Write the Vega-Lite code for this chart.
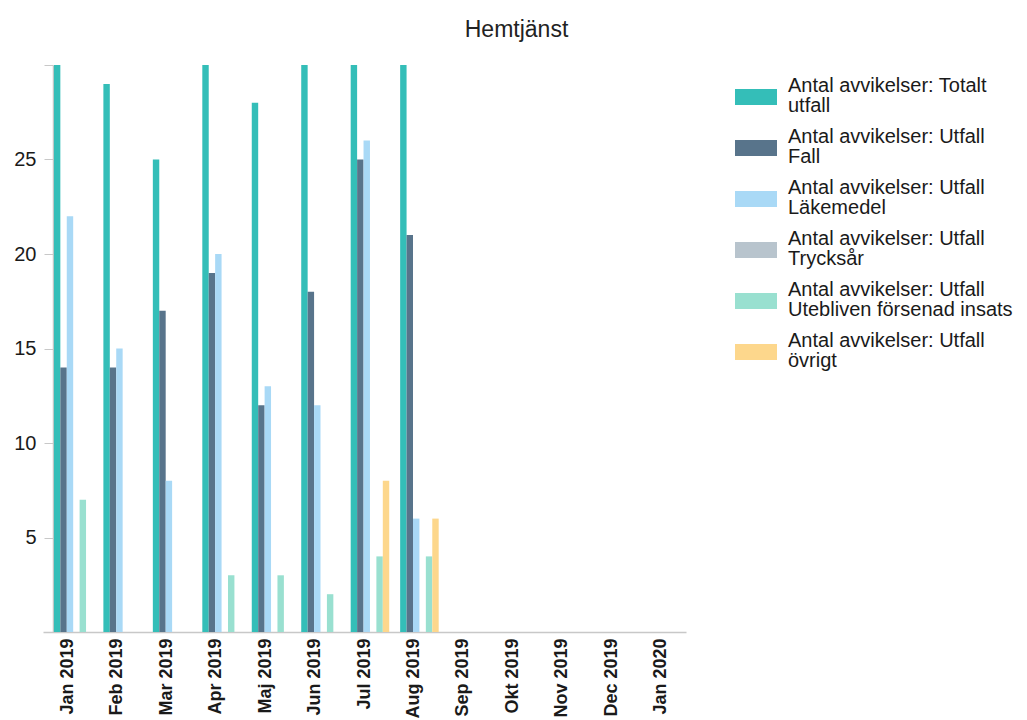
{
  "$schema": "https://vega.github.io/schema/vega-lite/v6.json",
  "width": 643,
  "height": 567,
  "autosize": {"type": "none"},
  "padding": {"left": 43, "top": 65, "right": 341, "bottom": 88},
  "background": "white",
  "title": {
    "text": "Hemtjänst",
    "anchor": "middle",
    "dx": 152,
    "offset": 23,
    "fontSize": 23,
    "fontWeight": "normal",
    "font": "Liberation Sans",
    "color": "#222222"
  },
  "config": {
    "view": {"stroke": null},
    "font": "Liberation Sans",
    "style": {"guide-label": {"lineHeight": 20}}
  },
  "data": {
    "values": [
      {"month": "Jan 2019", "serie": "Antal avvikelser: Totalt utfall", "antal": 30},
      {"month": "Jan 2019", "serie": "Antal avvikelser: Utfall Fall", "antal": 14},
      {"month": "Jan 2019", "serie": "Antal avvikelser: Utfall Läkemedel", "antal": 22},
      {"month": "Jan 2019", "serie": "Antal avvikelser: Utfall Utebliven försenad insats", "antal": 7},
      {"month": "Feb 2019", "serie": "Antal avvikelser: Totalt utfall", "antal": 29},
      {"month": "Feb 2019", "serie": "Antal avvikelser: Utfall Fall", "antal": 14},
      {"month": "Feb 2019", "serie": "Antal avvikelser: Utfall Läkemedel", "antal": 15},
      {"month": "Mar 2019", "serie": "Antal avvikelser: Totalt utfall", "antal": 25},
      {"month": "Mar 2019", "serie": "Antal avvikelser: Utfall Fall", "antal": 17},
      {"month": "Mar 2019", "serie": "Antal avvikelser: Utfall Läkemedel", "antal": 8},
      {"month": "Apr 2019", "serie": "Antal avvikelser: Totalt utfall", "antal": 30},
      {"month": "Apr 2019", "serie": "Antal avvikelser: Utfall Fall", "antal": 19},
      {"month": "Apr 2019", "serie": "Antal avvikelser: Utfall Läkemedel", "antal": 20},
      {"month": "Apr 2019", "serie": "Antal avvikelser: Utfall Utebliven försenad insats", "antal": 3},
      {"month": "Maj 2019", "serie": "Antal avvikelser: Totalt utfall", "antal": 28},
      {"month": "Maj 2019", "serie": "Antal avvikelser: Utfall Fall", "antal": 12},
      {"month": "Maj 2019", "serie": "Antal avvikelser: Utfall Läkemedel", "antal": 13},
      {"month": "Maj 2019", "serie": "Antal avvikelser: Utfall Utebliven försenad insats", "antal": 3},
      {"month": "Jun 2019", "serie": "Antal avvikelser: Totalt utfall", "antal": 30},
      {"month": "Jun 2019", "serie": "Antal avvikelser: Utfall Fall", "antal": 18},
      {"month": "Jun 2019", "serie": "Antal avvikelser: Utfall Läkemedel", "antal": 12},
      {"month": "Jun 2019", "serie": "Antal avvikelser: Utfall Utebliven försenad insats", "antal": 2},
      {"month": "Jul 2019", "serie": "Antal avvikelser: Totalt utfall", "antal": 30},
      {"month": "Jul 2019", "serie": "Antal avvikelser: Utfall Fall", "antal": 25},
      {"month": "Jul 2019", "serie": "Antal avvikelser: Utfall Läkemedel", "antal": 26},
      {"month": "Jul 2019", "serie": "Antal avvikelser: Utfall Utebliven försenad insats", "antal": 4},
      {"month": "Jul 2019", "serie": "Antal avvikelser: Utfall övrigt", "antal": 8},
      {"month": "Aug 2019", "serie": "Antal avvikelser: Totalt utfall", "antal": 30},
      {"month": "Aug 2019", "serie": "Antal avvikelser: Utfall Fall", "antal": 21},
      {"month": "Aug 2019", "serie": "Antal avvikelser: Utfall Läkemedel", "antal": 6},
      {"month": "Aug 2019", "serie": "Antal avvikelser: Utfall Utebliven försenad insats", "antal": 4},
      {"month": "Aug 2019", "serie": "Antal avvikelser: Utfall övrigt", "antal": 6}
    ]
  },
  "mark": {"type": "bar", "clip": true},
  "encoding": {
    "x": {
      "field": "month",
      "type": "nominal",
      "sort": null,
      "scale": {
        "domain": ["Jan 2019", "Feb 2019", "Mar 2019", "Apr 2019", "Maj 2019", "Jun 2019", "Jul 2019", "Aug 2019", "Sep 2019", "Okt 2019", "Nov 2019", "Dec 2019", "Jan 2020"],
        "paddingInner": 0,
        "paddingOuter": 0
      },
      "axis": {
        "title": null,
        "labelAngle": -90,
        "labelFontSize": 18,
        "labelFontWeight": "bold",
        "labelColor": "#1a1a1a",
        "labelPadding": 6,
        "ticks": false,
        "domainColor": "#c8c8c8",
        "domainWidth": 1.5,
        "grid": false
      }
    },
    "xOffset": {
      "field": "serie",
      "type": "nominal",
      "scale": {
        "domain": ["Antal avvikelser: Totalt utfall", "Antal avvikelser: Utfall Fall", "Antal avvikelser: Utfall Läkemedel", "Antal avvikelser: Utfall Trycksår", "Antal avvikelser: Utfall Utebliven försenad insats", "Antal avvikelser: Utfall övrigt"],
        "paddingInner": 0,
        "paddingOuter": 0.85,
        "align": 1
      }
    },
    "y": {
      "field": "antal",
      "type": "quantitative",
      "scale": {"domain": [0, 30], "nice": false, "zero": true},
      "axis": {
        "title": null,
        "values": [0, 5, 10, 15, 20, 25, 30],
        "labelExpr": "datum.value == 0 || datum.value == 30 ? '' : datum.label",
        "offset": -10,
        "tickSize": 9,
        "tickColor": "#c8c8c8",
        "domainColor": "#c8c8c8",
        "domainWidth": 1.5,
        "labelFontSize": 20,
        "labelColor": "#1a1a1a",
        "labelPadding": 8,
        "grid": false
      }
    },
    "color": {
      "field": "serie",
      "type": "nominal",
      "scale": {
        "domain": ["Antal avvikelser: Totalt utfall", "Antal avvikelser: Utfall Fall", "Antal avvikelser: Utfall Läkemedel", "Antal avvikelser: Utfall Trycksår", "Antal avvikelser: Utfall Utebliven försenad insats", "Antal avvikelser: Utfall övrigt"],
        "range": ["#34BEB8", "#58748B", "#A9D9F6", "#B8C4CD", "#99E0D0", "#FDD78C"]
      },
      "legend": {
        "title": null,
        "orient": "none",
        "legendX": 692,
        "legendY": 0,
        "padding": 0,
        "symbolType": "M-1,0.14H1V0.9H-1Z",
        "symbolSize": 1764,
        "symbolStrokeWidth": 0,
        "symbolOpacity": 1,
        "labelOffset": 11,
        "labelFontSize": 20,
        "labelColor": "#1a1a1a",
        "labelLimit": 400,
        "labelBaseline": "middle",
        "rowPadding": -1,
        "labelExpr": "[join(slice(split(datum.label, ' '), 0, 3), ' '), join(slice(split(datum.label, ' '), 3), ' ')]"
      }
    }
  }
}
